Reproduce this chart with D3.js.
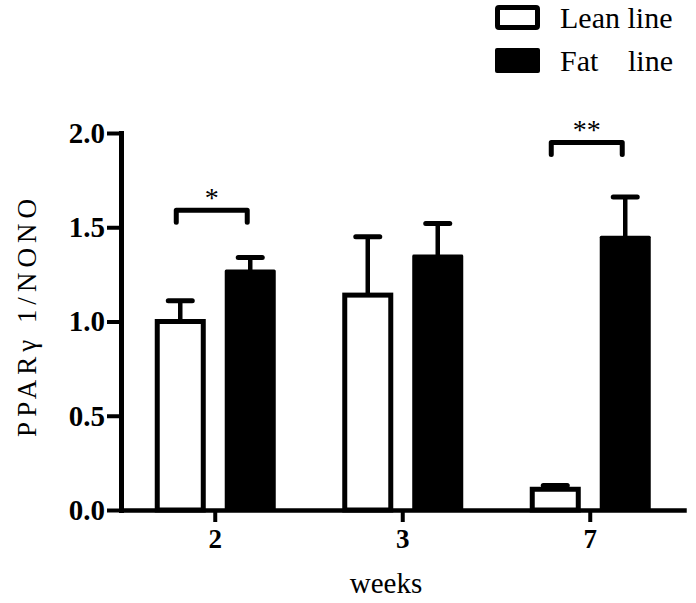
<!DOCTYPE html>
<html>
<head>
<meta charset="utf-8">
<script src="https://cdn.jsdelivr.net/npm/d3@7"></script>
</head>
<body style="margin:0">
<script>
// ---- data ----
const categories = ["2", "3", "7"];
const seriesNames = ["Lean line", "Fat line"];
const leanMean = [1.00, 1.14, 0.11];
const leanErr  = [0.11, 0.31, 0.02];
const fatMean  = [1.27, 1.35, 1.45];
const fatErr   = [0.07, 0.17, 0.21];
const yTicks = [0.0, 0.5, 1.0, 1.5, 2.0];
const sigGroups = ["2", "7"];
const sigLevels = [1.59, 1.95];
const sigLabels = ["*", "**"];
const yTitle = "PPARγ 1/NONO";
const xTitle = "weeks";

// ---- layout ----
const W = 696, H = 603;
const FONT = "Liberation Serif";
const svg = d3.select("body").append("svg").attr("width", W).attr("height", H);

const y = d3.scaleLinear().domain([0, 2]).range([510, 133]);
const x0 = d3.scaleBand().domain(categories).range([121.5, 684]).paddingInner(0).paddingOuter(0);
const x1 = d3.scaleBand().domain(["Lean", "Fat"]).range([33.25, 154.25]).paddingInner(0.271);
const bw = x1.bandwidth();

const rows = categories.map((c, i) => ({
  cat: c,
  bars: [
    { key: "Lean", mean: leanMean[i], err: leanErr[i] },
    { key: "Fat",  mean: fatMean[i],  err: fatErr[i] }
  ]
}));

const SW = 5;

// bars
const g = svg.append("g");
rows.forEach(r => {
  r.bars.forEach(b => {
    const bx = x0(r.cat) + x1(b.key);
    const cx = bx + bw / 2;
    g.append("line")
      .attr("x1", cx).attr("x2", cx)
      .attr("y1", y(b.mean)).attr("y2", y(b.mean + b.err))
      .attr("stroke", "#000").attr("stroke-width", 4.5);
    g.append("line")
      .attr("x1", cx - 12).attr("x2", cx + 12)
      .attr("y1", y(b.mean + b.err)).attr("y2", y(b.mean + b.err))
      .attr("stroke", "#000").attr("stroke-width", 5).attr("stroke-linecap", "round");
    if (b.key === "Lean") {
      g.append("rect")
        .attr("x", bx + SW / 2).attr("y", y(b.mean))
        .attr("width", bw - SW).attr("height", y(0) - y(b.mean))
        .attr("fill", "#fff").attr("stroke", "#000").attr("stroke-width", SW);
    } else {
      g.append("rect")
        .attr("x", bx).attr("y", y(b.mean) - 1)
        .attr("width", bw).attr("height", y(0) - y(b.mean) + 1)
        .attr("fill", "#000").attr("rx", 1.5);
    }
  });
});

// significance brackets
sigGroups.forEach((grp, i) => {
  const xa = x0(grp) + x1("Lean") + bw / 2 - 4;
  const xb = x0(grp) + x1("Fat") + bw / 2 - 3;
  const yy = y(sigLevels[i]);
  svg.append("path")
    .attr("d", `M${xa},${yy + 12} L${xa},${yy} L${xb},${yy} L${xb},${yy + 12}`)
    .attr("fill", "none").attr("stroke", "#000").attr("stroke-width", 5)
    .attr("stroke-linecap", "round").attr("stroke-linejoin", "round");
  svg.append("text")
    .attr("x", (xa + xb) / 2).attr("y", yy - 3)
    .attr("text-anchor", "middle")
    .attr("font-family", FONT)
    .attr("font-size", 28)
    .text(sigLabels[i]);
});

// y axis
const yAxis = svg.append("g").attr("transform", "translate(121,0)")
  .call(d3.axisLeft(y).tickValues(yTicks).tickFormat(d3.format(".1f")).tickSize(14).tickSizeOuter(0).tickPadding(2));
yAxis.attr("font-family", FONT).attr("font-size", 29);
yAxis.select(".domain").attr("stroke", "#000").attr("stroke-width", 5).attr("stroke-linecap", "square");
yAxis.selectAll(".tick line").attr("stroke", "#000").attr("stroke-width", 4);
yAxis.selectAll(".tick text")
  .attr("font-family", FONT)
  .attr("font-weight", "bold").attr("font-size", 29)
  .attr("fill", "#000").attr("dy", "0.32em");

// x axis
const xAxis = svg.append("g").attr("transform", `translate(0,${y(0)})`)
  .call(d3.axisBottom(x0).tickSize(12).tickSizeOuter(0).tickPadding(7));
xAxis.attr("font-family", FONT).attr("font-size", 27);
xAxis.select(".domain").attr("stroke", "#000").attr("stroke-width", 4.5).attr("stroke-linecap", "square");
xAxis.selectAll(".tick line").attr("stroke", "#000").attr("stroke-width", 4);
xAxis.selectAll(".tick text")
  .attr("font-family", FONT)
  .attr("font-weight", "bold").attr("font-size", 27)
  .attr("fill", "#000");

// axis titles
svg.append("text")
  .attr("x", 386).attr("y", 593)
  .attr("text-anchor", "middle").attr("font-size", 29)
  .attr("font-family", FONT)
  .text(xTitle);
const yt = svg.append("text")
  .attr("transform", "translate(36,318) rotate(-90)")
  .attr("text-anchor", "middle").attr("font-size", 27)
  .attr("font-family", FONT);
yt.selectAll("tspan").data(Array.from(yTitle)).join("tspan")
  .attr("dx", (d, i) => i === 0 ? 0 : 5)
  .text(d => d);

// legend
const legend = svg.append("g");
legend.append("rect").attr("x", 497.5).attr("y", 7.5).attr("width", 40).attr("height", 20)
  .attr("fill", "#fff").attr("stroke", "#000").attr("stroke-width", 5).attr("rx", 1.5);
legend.append("rect").attr("x", 495).attr("y", 48).attr("width", 45).attr("height", 25)
  .attr("fill", "#000").attr("rx", 2);
legend.append("text").attr("x", 560).attr("y", 28).attr("font-size", 30)
  .attr("font-family", FONT).text(seriesNames[0]);
const fatWords = seriesNames[1].split(" ");
legend.append("text").attr("x", 560).attr("y", 71).attr("font-size", 30)
  .attr("font-family", FONT).text(fatWords[0]);
legend.append("text").attr("x", 673).attr("y", 71).attr("font-size", 30)
  .attr("text-anchor", "end")
  .attr("font-family", FONT).text(fatWords[1]);
</script>
</body>
</html>
